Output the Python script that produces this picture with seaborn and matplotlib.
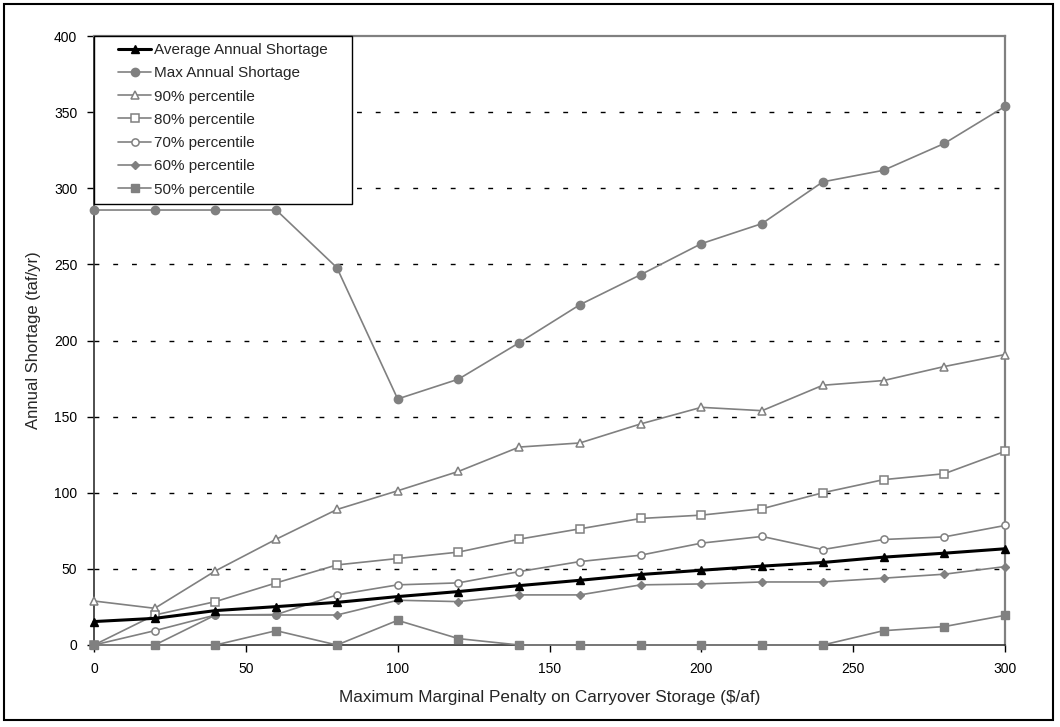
import matplotlib
matplotlib.use("Agg")
import matplotlib.pyplot as plt
import numpy as np
import pandas as pd
import seaborn as sns
from matplotlib.patches import Rectangle
from matplotlib.lines import Line2D
from matplotlib.legend_handler import HandlerLine2D

# ---- data ----
penalty = [0, 20, 40, 60, 80, 100, 120, 140, 160, 180, 200, 220, 240, 260, 280, 300]
avg_short = [15.4, 17.5, 22.6, 25.2, 28.0, 31.8, 35.1, 39.0, 42.5, 46.3, 49.1, 51.8, 54.2, 57.7, 60.3, 63.2]
max_short = [285.7, 285.7, 285.7, 285.7, 247.8, 161.6, 174.6, 198.5, 223.5, 243.2, 263.6, 276.8, 304.2, 311.8, 329.4, 353.7]
p90 = [28.9, 24.1, 48.7, 69.5, 89.0, 101.3, 114.0, 130.0, 132.7, 145.2, 156.1, 153.9, 170.6, 173.7, 182.9, 190.8]
p80 = [0, 19.7, 28.5, 40.8, 52.6, 56.8, 61.0, 69.5, 76.3, 83.1, 85.3, 89.5, 100.0, 108.6, 112.5, 127.2]
p70 = [0, 9.4, 19.7, 20.0, 32.9, 39.5, 40.8, 48.2, 54.8, 59.0, 66.9, 71.3, 62.7, 69.3, 71.0, 78.5]
p60 = [0, 0, 19.7, 19.7, 19.7, 29.4, 28.5, 32.9, 32.9, 39.5, 40.1, 41.4, 41.4, 43.9, 46.5, 51.5]
p50 = [0, 0, 0, 9.4, 0, 16.2, 4.2, 0, 0, 0, 0, 0, 0, 9.4, 12.1, 19.5]
series_names = ["Average Annual Shortage", "Max Annual Shortage", "90% percentile",
                "80% percentile", "70% percentile", "60% percentile", "50% percentile"]
yticks = [0, 50, 100, 150, 200, 250, 300, 350, 400]
xticks = [0, 50, 100, 150, 200, 250, 300]

sns.set_style("white")
plt.rcParams["font.family"] = ["Liberation Sans", "DejaVu Sans"]
plt.rcParams["lines.scale_dashes"] = False

fig = plt.figure(figsize=(10.6, 7.27), dpi=100)
ax = fig.add_axes([94 / 1060, 1 - 645 / 727, (1005 - 94) / 1060, (645 - 36) / 727])

gray = "#808080"
styles = [
    dict(color="black", lw=2.2, marker="^", ms=5.6, mfc="black", mec="black", mew=1, zorder=10),
    dict(color=gray, lw=1.2, marker="o", ms=6.0, mfc=gray, mec=gray, mew=1, zorder=5),
    dict(color=gray, lw=1.2, marker="^", ms=5.2, mfc="white", mec=gray, mew=1.1, zorder=5),
    dict(color=gray, lw=1.2, marker="s", ms=5.4, mfc="white", mec=gray, mew=1.1, zorder=5),
    dict(color=gray, lw=1.2, marker="o", ms=5.2, mfc="white", mec=gray, mew=1.1, zorder=5),
    dict(color=gray, lw=1.2, marker="D", ms=3.8, mfc=gray, mec=gray, mew=1, zorder=5),
    dict(color=gray, lw=1.2, marker="s", ms=5.8, mfc=gray, mec=gray, mew=1, zorder=5),
]
all_vals = [avg_short, max_short, p90, p80, p70, p60, p50]

for name, vals, st in zip(series_names, all_vals, styles):
    df = pd.DataFrame({"x": penalty, "y": vals})
    st = dict(st)
    color = st.pop("color")
    lw = st.pop("lw")
    ms = st.pop("ms")
    sns.lineplot(data=df, x="x", y="y", ax=ax, color=color, linewidth=lw,
                 markersize=ms, label=name, clip_on=False, **st)

ax.set_xlim(0, 300)
ax.set_ylim(0, 400)
ax.set_xticks(xticks)
ax.set_yticks(yticks)
ax.tick_params(axis="both", direction="out", length=5, width=1, colors="black",
               labelsize=10, pad=7, left=True, bottom=True)

for y in yticks[1:-1]:
    ax.axhline(y, color="black", lw=1, ls=(0, (3.5, 10)), zorder=1)

for s in ["left", "bottom"]:
    ax.spines[s].set_color("#303030")
    ax.spines[s].set_linewidth(1.2)
for s in ["top", "right"]:
    ax.spines[s].set_color(gray)
    ax.spines[s].set_linewidth(1.6)

ax.set_xlabel("Maximum Marginal Penalty on Carryover Storage ($/af)", fontsize=12.3, labelpad=10)
ax.set_ylabel("Annual Shortage (taf/yr)", fontsize=12, labelpad=9)


class ShiftedHandler(HandlerLine2D):
    def __init__(self, shift, **kw):
        super().__init__(**kw)
        self.shift = shift

    def create_artists(self, legend, orig_handle, xdescent, ydescent, width, height,
                       fontsize, trans):
        return super().create_artists(legend, orig_handle, xdescent - self.shift, ydescent,
                                      width - self.shift, height, fontsize, trans)


handles, labels = ax.get_legend_handles_labels()
leg = ax.legend(handles, labels, loc="upper left",
                bbox_to_anchor=(0, 1, (352 - 94) / 911, 0), mode="expand",
                borderaxespad=0, fontsize=11,
                frameon=True, fancybox=False, framealpha=1, edgecolor="black",
                handlelength=3.3, labelspacing=0.61, borderpad=0.45, handletextpad=0.2,
                handler_map={Line2D: ShiftedHandler(12.5)})
leg.get_frame().set_linewidth(1)
leg.set_zorder(20)

fig.patches.append(Rectangle((4 / 1060, 1 - 720 / 727), 1049 / 1060, 716 / 727,
                             transform=fig.transFigure, fill=False, ec="black", lw=1.5))

fig.savefig("out.png", dpi=100, facecolor="white")
